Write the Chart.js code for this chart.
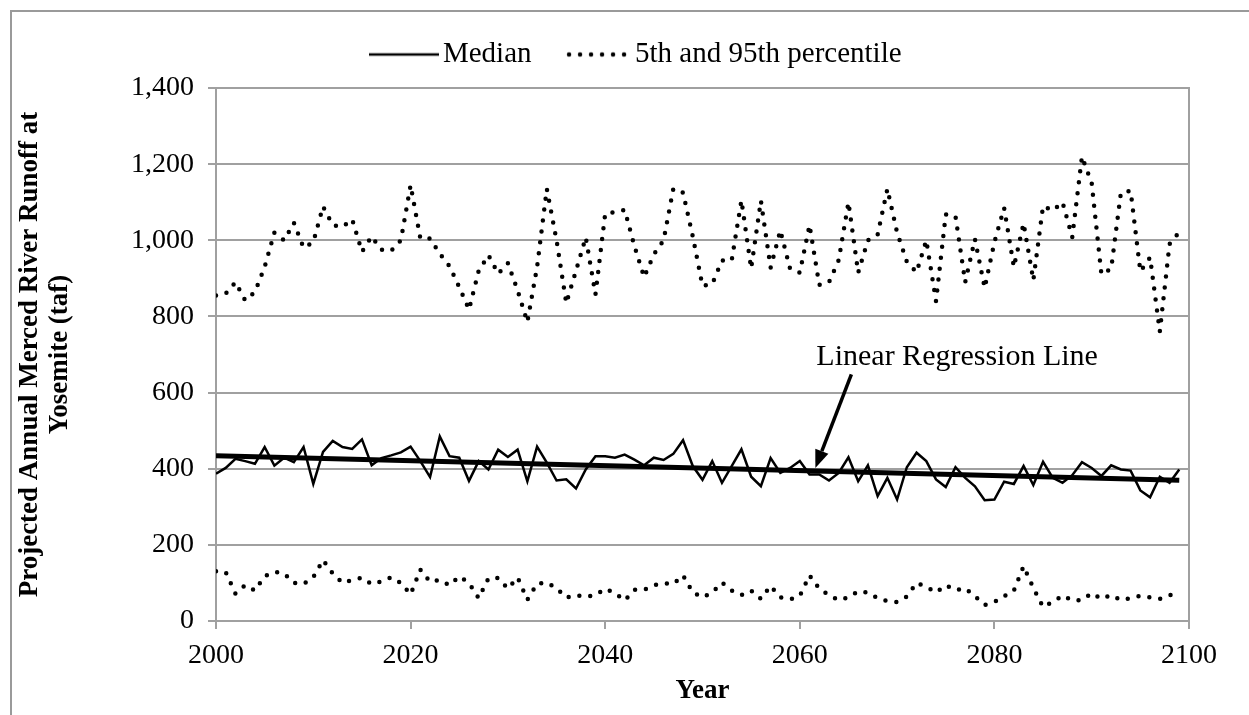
<!DOCTYPE html>
<html>
<head>
<meta charset="utf-8">
<title>Merced River Runoff</title>
<script src="https://cdn.jsdelivr.net/npm/chart.js@4.4.1/dist/chart.umd.min.js"></script>
<style>
  html, body { margin: 0; padding: 0; background: #fff; }
  #wrap { position: relative; width: 1249px; height: 715px; overflow: hidden; }
  #frame { position: absolute; left: 10px; top: 10px; width: 1300px; height: 800px; border: 2px solid #9a9a9a; box-sizing: border-box; }
  canvas { position: absolute; left: 0; top: 0; }
</style>
</head>
<body>
<div id="wrap">
  <div id="frame"></div>
  <canvas id="grafico" width="1249" height="715"></canvas>
</div>
<script>
// anos 2000-2099
const years = [
  2000, 2001, 2002, 2003, 2004, 2005, 2006, 2007, 2008, 2009,
  2010, 2011, 2012, 2013, 2014, 2015, 2016, 2017, 2018, 2019,
  2020, 2021, 2022, 2023, 2024, 2025, 2026, 2027, 2028, 2029,
  2030, 2031, 2032, 2033, 2034, 2035, 2036, 2037, 2038, 2039,
  2040, 2041, 2042, 2043, 2044, 2045, 2046, 2047, 2048, 2049,
  2050, 2051, 2052, 2053, 2054, 2055, 2056, 2057, 2058, 2059,
  2060, 2061, 2062, 2063, 2064, 2065, 2066, 2067, 2068, 2069,
  2070, 2071, 2072, 2073, 2074, 2075, 2076, 2077, 2078, 2079,
  2080, 2081, 2082, 2083, 2084, 2085, 2086, 2087, 2088, 2089,
  2090, 2091, 2092, 2093, 2094, 2095, 2096, 2097, 2098, 2099
];

// 95th percentile (taf)
const p95 = [
  855, 860, 890, 842, 864, 930, 1020, 1000, 1046, 980,
  995, 1089, 1040, 1035, 1055, 970, 1010, 975, 972, 1000,
  1145, 1005, 1005, 965, 932, 877, 818, 920, 961, 912,
  940, 868, 785, 930, 1135, 1000, 835, 920, 1008, 858,
  1070, 1074, 1080, 985, 903, 963, 1000, 1135, 1125, 1010,
  880, 885, 947, 947, 1105, 926, 1104, 928, 1026, 925,
  915, 1040, 883, 890, 948, 1100, 915, 1000, 1015, 1135,
  1020, 944, 916, 1000, 840, 1068, 1063, 890, 1003, 875,
  995, 1085, 930, 1045, 895, 1090, 1078, 1100, 1008, 1220,
  1150, 910, 925, 1125, 1130, 918, 955, 760, 990, 1022
];

// median (taf)
const median = [
  387, 402, 426, 420, 413, 457, 408, 429, 417, 457,
  360, 444, 473, 457, 452, 477, 409, 428, 435, 443,
  458, 420, 378, 485, 433, 429, 368, 420, 398, 450,
  431, 450, 367, 458, 416, 369, 372, 348, 398, 433,
  433, 429, 437, 424, 409, 429, 423, 439, 475, 407,
  371, 420, 363, 407, 451, 379, 354, 428, 389, 402,
  420, 385, 385, 369, 389, 430, 367, 409, 328, 376,
  319, 404, 442, 420, 372, 352, 404, 376, 354, 317,
  319, 366, 360, 407, 357, 418, 376, 363, 383, 417,
  402, 381, 409, 398, 395, 343, 325, 379, 363, 398
];

// 5th percentile (taf)
const p5 = [
  131, 128, 72, 94, 80, 118, 129, 125, 100, 97,
  115, 160, 125, 100, 108, 114, 97, 104, 115, 100,
  70, 135, 103, 108, 94, 117, 100, 60, 112, 113,
  85, 114, 56, 98, 101, 86, 61, 68, 64, 68,
  85, 73, 54, 82, 82, 94, 99, 97, 120, 75,
  62, 75, 101, 80, 68, 80, 58, 92, 62, 57,
  66, 120, 85, 68, 55, 62, 78, 75, 60, 52,
  50, 64, 100, 90, 75, 94, 81, 86, 65, 42,
  50, 65, 80, 144, 87, 37, 50, 67, 54, 55,
  73, 58, 68, 55, 60, 66, 62, 58, 67, 79
];

// linha de regressao (extremos)
const regressionYears = [2000, 2099];
const regressionValues = [434, 370];

const yTicks = [0, 200, 400, 600, 800, 1000, 1200, 1400];
const xTicks = [2000, 2020, 2040, 2060, 2080, 2100];

// anotacao (em unidades de dados)
const noteText = 'Linear Regression Line';
const notePos = { x: 2061.7, y: 672 };
const arrowFrom = { x: 2065.3, y: 648 };
const arrowTo = { x: 2061.6, y: 402 };

const SERIF = "'Liberation Serif', 'DejaVu Serif', serif";
const GRID = '#a0a0a0';

const toPoints = (xs, ys) => xs.map((x, i) => ({ x: x, y: ys[i] }));

// amostras da legenda
function legendSample(dotted) {
  const c = document.createElement('canvas');
  c.width = 70; c.height = 8;
  const g = c.getContext('2d');
  g.strokeStyle = '#000';
  g.beginPath();
  if (dotted) {
    g.lineWidth = 4.5; g.lineCap = 'round'; g.setLineDash([0, 11]);
    g.moveTo(8, 4); g.lineTo(64, 4);
  } else {
    g.lineWidth = 2.5;
    g.moveTo(0, 4); g.lineTo(70, 4);
  }
  g.stroke();
  return c;
}

const legendSpace = {
  id: 'legendSpace',
  beforeInit(chart) {
    const fit = chart.legend.fit;
    chart.legend.fit = function () { fit.call(this); this.height = 88; };
  },
  afterLayout(chart) {
    chart.legend.left += 46;
    chart.legend.right += 46;
  }
};

const plotFrame = {
  id: 'plotFrame',
  beforeDatasetsDraw(chart) {
    const a = chart.chartArea, c = chart.ctx;
    c.save();
    c.strokeStyle = GRID; c.lineWidth = 2;
    c.strokeRect(a.left, a.top, a.right - a.left, a.bottom - a.top);
    c.restore();
  }
};

const regressionNote = {
  id: 'regressionNote',
  afterDatasetsDraw(chart) {
    const { ctx, scales: { x, y } } = chart;
    const x0 = x.getPixelForValue(arrowFrom.x), y0 = y.getPixelForValue(arrowFrom.y);
    const x1 = x.getPixelForValue(arrowTo.x), y1 = y.getPixelForValue(arrowTo.y);
    const ang = Math.atan2(y1 - y0, x1 - x0);
    const head = 18, half = 7;
    const bx = x1 - Math.cos(ang) * head, by = y1 - Math.sin(ang) * head;
    ctx.save();
    ctx.strokeStyle = '#000'; ctx.fillStyle = '#000'; ctx.lineWidth = 3.5;
    ctx.beginPath(); ctx.moveTo(x0, y0); ctx.lineTo(bx, by); ctx.stroke();
    ctx.beginPath();
    ctx.moveTo(x1, y1);
    ctx.lineTo(bx - Math.sin(ang) * half, by + Math.cos(ang) * half);
    ctx.lineTo(bx + Math.sin(ang) * half, by - Math.cos(ang) * half);
    ctx.closePath(); ctx.fill();
    ctx.font = '30px ' + SERIF;
    ctx.textBaseline = 'alphabetic';
    ctx.fillText(noteText, x.getPixelForValue(notePos.x), y.getPixelForValue(notePos.y));
    ctx.restore();
  }
};

const ctx = document.getElementById('grafico').getContext('2d');
const grafico = new Chart(ctx, {
  type: 'line',
  data: {
    datasets: [
      {
        label: 'Linear Regression Line',
        data: toPoints(regressionYears, regressionValues),
        borderColor: '#000', borderWidth: 5, pointRadius: 0
      },
      {
        label: 'Median',
        data: toPoints(years, median),
        borderColor: '#000', borderWidth: 2.5, pointRadius: 0,
        pointStyle: legendSample(false)
      },
      {
        label: '5th and 95th percentile',
        data: toPoints(years, p95),
        borderColor: '#000', borderWidth: 4.5, borderDash: [0, 11],
        borderCapStyle: 'round', pointRadius: 0,
        pointStyle: legendSample(true)
      },
      {
        label: '5th percentile',
        data: toPoints(years, p5),
        borderColor: '#000', borderWidth: 4.5, borderDash: [0, 11],
        borderCapStyle: 'round', pointRadius: 0
      }
    ]
  },
  options: {
    responsive: false,
    animation: false,
    devicePixelRatio: 1,
    layout: { padding: { left: 0, right: 60, top: 0, bottom: 0 } },
    plugins: {
      tooltip: { enabled: false },
      legend: {
        position: 'top',
        labels: {
          usePointStyle: true,
          pointStyleWidth: 49,
          padding: 40,
          color: '#000',
          font: { family: SERIF, size: 29 },
          filter: item => item.text === 'Median' || item.text === '5th and 95th percentile'
        }
      }
    },
    scales: {
      x: {
        type: 'linear',
        min: 2000, max: 2100,
        afterFit: s => { s.height = 94; },
        afterBuildTicks: s => { s.ticks = xTicks.map(v => ({ value: v })); },
        grid: { drawOnChartArea: false, color: GRID, lineWidth: 2, tickLength: 8 },
        border: { color: GRID, width: 2 },
        ticks: { color: '#000', padding: 10, font: { family: SERIF, size: 28 }, callback: v => String(v) },
        title: { display: true, text: 'Year', color: '#000', padding: { top: 0, bottom: 8 }, font: { family: SERIF, size: 27, weight: 'bold' } }
      },
      y: {
        min: 0, max: 1400,
        afterFit: s => { s.width = 216; },
        afterBuildTicks: s => { s.ticks = yTicks.map(v => ({ value: v })); },
        grid: { color: GRID, lineWidth: 2, tickLength: 8 },
        border: { color: GRID, width: 2 },
        ticks: { color: '#000', padding: 14, font: { family: SERIF, size: 28 } },
        title: {
          display: true,
          text: ['Projected Annual Merced River Runoff at', 'Yosemite (taf)'],
          color: '#000',
          padding: { top: 15, bottom: 0 },
          font: { family: SERIF, size: 27, weight: 'bold', lineHeight: 1.1 }
        }
      }
    }
  },
  plugins: [legendSpace, plotFrame, regressionNote]
});
</script>
</body>
</html>
